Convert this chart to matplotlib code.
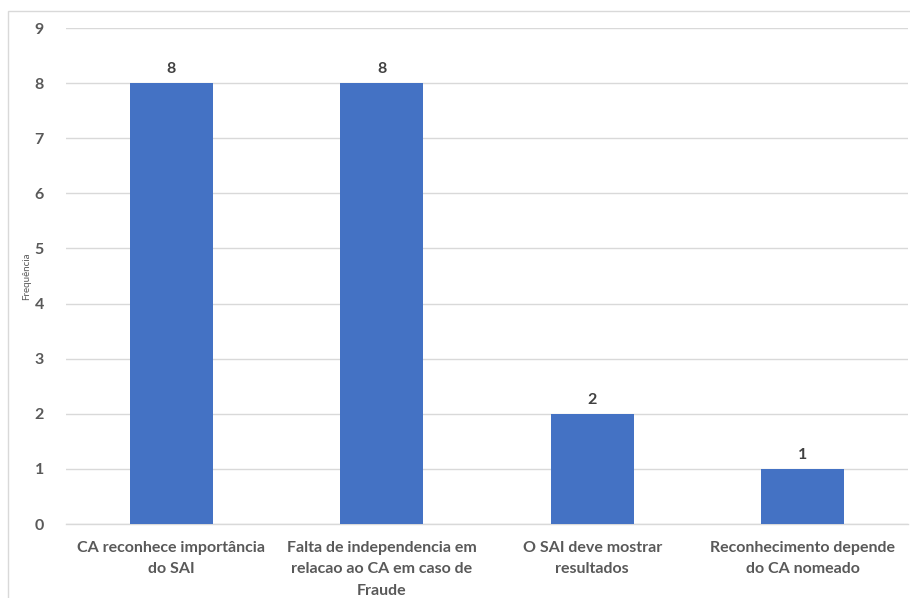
import matplotlib
matplotlib.use("Agg")
import matplotlib.pyplot as plt
from matplotlib.patches import Rectangle

categories = [
    "CA reconhece importância\ndo SAI",
    "Falta de independencia em\nrelacao ao CA em caso de\nFraude",
    "O SAI deve mostrar\nresultados",
    "Reconhecimento depende\ndo CA nomeado",
]
frequencias = [8, 8, 2, 1]
y_ticks = list(range(0, 10))

plt.rcParams["font.family"] = ["Lato", "DejaVu Sans"]
text_color = "#595959"
bar_color = "#4472C4"
grid_color = "#D9D9D9"

fig = plt.figure(figsize=(9.1, 5.98), dpi=100)
fig.patches.append(Rectangle((8 / 910, -0.05), 1.0, 1 - 11 / 598 + 0.05,
                             transform=fig.transFigure, fill=False,
                             edgecolor="#D9D9D9", linewidth=1.0, zorder=0))

ax = fig.add_axes([66 / 910, 1 - 524 / 598, (908 - 66) / 910, (524 - 28) / 598])
x = list(range(len(categories)))
bars = ax.bar(x, frequencias, width=0.395, color=bar_color, zorder=3)

for xi, v in zip(x, frequencias):
    ax.text(xi, v + 0.13, str(v), ha="center", va="bottom",
            fontsize=11.5, fontweight="bold", color="#404040")

ax.set_xlim(-0.5, len(categories) - 0.5)
ax.set_ylim(0, 9)
ax.set_yticks(y_ticks)
ax.set_yticklabels([str(t) for t in y_ticks], fontsize=11.5, fontweight="bold",
                   color=text_color)
ax.set_xticks(x)
ax.set_xticklabels(categories, fontsize=11.5, fontweight="bold", color=text_color,
                   linespacing=1.68)
ax.tick_params(axis="both", length=0)
ax.tick_params(axis="y", pad=16)
ax.tick_params(axis="x", pad=12)

ax.yaxis.grid(True, color=grid_color, linewidth=1.0, zorder=0)
for s in ["top", "right", "left"]:
    ax.spines[s].set_visible(False)
ax.spines["bottom"].set_color(grid_color)
ax.spines["bottom"].set_linewidth(1.0)

ax.set_ylabel("Frequência", fontsize=7, color=text_color)
ax.yaxis.set_label_coords(-0.042, 0.5)

fig.savefig("out.png", dpi=100)
